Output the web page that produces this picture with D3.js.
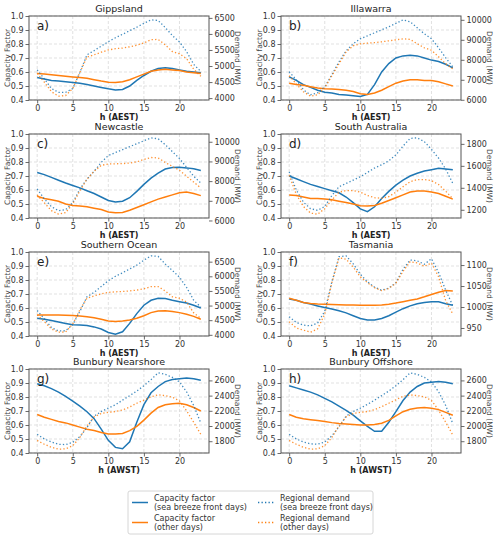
<!DOCTYPE html>
<html>
<head>
<meta charset="utf-8">
<script src="https://cdn.jsdelivr.net/npm/d3@7"></script>
<style>
body { margin: 0; background: #fff; }
text { font-family: "DejaVu Sans", sans-serif; }
</style>
</head>
<body>
<script>
// hours of day
var hours = d3.range(0, 24);

// Gippsland
var gippsCfSbf   = [0.56,0.55,0.54,0.535,0.53,0.525,0.52,0.51,0.50,0.49,0.48,0.472,0.475,0.50,0.54,0.575,0.605,0.625,0.63,0.625,0.615,0.605,0.60,0.595];
var gippsCfOther = [0.59,0.585,0.58,0.575,0.57,0.565,0.56,0.555,0.545,0.535,0.527,0.525,0.53,0.545,0.565,0.585,0.605,0.615,0.62,0.615,0.61,0.60,0.595,0.59];
var gippsDemSbf   = [4880,4600,4300,4180,4180,4300,4800,5350,5480,5620,5760,5880,5990,6100,6210,6330,6440,6420,6200,5950,5750,5450,5050,4830];
var gippsDemOther = [4770,4500,4200,4060,4080,4300,4800,5280,5350,5430,5500,5540,5560,5600,5650,5720,5820,5830,5660,5450,5380,5230,4900,4680];

// Illawarra
var illaCfSbf   = [0.565,0.54,0.51,0.49,0.47,0.455,0.45,0.44,0.435,0.43,0.425,0.44,0.51,0.60,0.66,0.70,0.715,0.72,0.715,0.70,0.685,0.675,0.655,0.63];
var illaCfOther = [0.52,0.51,0.505,0.495,0.485,0.48,0.478,0.475,0.47,0.46,0.445,0.44,0.45,0.47,0.495,0.52,0.535,0.545,0.545,0.54,0.54,0.53,0.515,0.50];
var illaDemSbf   = [7400,7000,6500,6250,6350,6650,7250,7900,8450,8800,9050,9200,9350,9500,9650,9820,10000,9900,9600,9300,9050,8600,8100,7650];
var illaDemOther = [7200,6800,6400,6180,6250,6600,7200,7800,8400,8700,8800,8830,8860,8900,8950,9000,9050,9020,8800,8600,8480,8150,7800,7550];

// Newcastle
var newcCfSbf   = [0.725,0.71,0.69,0.67,0.65,0.632,0.615,0.595,0.575,0.55,0.525,0.515,0.52,0.545,0.59,0.64,0.685,0.72,0.75,0.76,0.762,0.758,0.752,0.74];
var newcCfOther = [0.555,0.54,0.53,0.52,0.50,0.49,0.485,0.48,0.47,0.46,0.443,0.437,0.44,0.455,0.475,0.495,0.515,0.535,0.55,0.565,0.58,0.585,0.575,0.56];
var newcDemSbf   = [7600,7100,6700,6500,6550,6900,7600,8100,8500,8950,9300,9450,9600,9750,9900,10050,10200,10150,9850,9500,9150,8700,8250,7900];
var newcDemOther = [7300,6900,6500,6320,6400,6850,7500,8100,8500,8800,8870,8880,8890,8920,8980,9100,9200,9180,8950,8750,8550,8250,7950,7650];

// South Australia
var saCfSbf   = [0.70,0.68,0.66,0.64,0.625,0.61,0.595,0.58,0.55,0.51,0.465,0.445,0.48,0.54,0.59,0.635,0.67,0.70,0.72,0.735,0.745,0.755,0.75,0.745];
var saCfOther = [0.565,0.56,0.55,0.54,0.54,0.535,0.53,0.52,0.51,0.50,0.488,0.485,0.49,0.505,0.525,0.545,0.565,0.585,0.592,0.592,0.585,0.575,0.555,0.535];
var saDemSbf   = [1545,1380,1270,1210,1195,1230,1330,1410,1440,1470,1500,1540,1580,1610,1645,1700,1780,1850,1855,1820,1750,1670,1570,1440];
var saDemOther = [1515,1340,1230,1170,1160,1210,1290,1360,1375,1375,1360,1330,1310,1305,1320,1360,1410,1455,1475,1475,1465,1430,1370,1300];

// Southern Ocean
var soCfSbf   = [0.527,0.52,0.51,0.50,0.49,0.48,0.478,0.475,0.465,0.45,0.425,0.412,0.43,0.49,0.56,0.62,0.655,0.67,0.668,0.655,0.645,0.635,0.62,0.60];
var soCfOther = [0.55,0.55,0.55,0.55,0.548,0.546,0.542,0.537,0.53,0.52,0.507,0.503,0.507,0.515,0.527,0.545,0.567,0.578,0.58,0.575,0.567,0.555,0.54,0.52];
var soDemSbf   = [4830,4550,4250,4130,4140,4350,4800,5300,5450,5650,5850,6000,6120,6250,6380,6550,6700,6680,6420,6200,5970,5620,5180,4950];
var soDemOther = [4680,4450,4200,4090,4100,4370,4850,5250,5330,5400,5450,5470,5480,5500,5530,5570,5650,5650,5500,5300,5250,5120,4750,4560];

// Tasmania
var tasCfSbf   = [0.665,0.655,0.64,0.628,0.615,0.603,0.593,0.58,0.565,0.545,0.525,0.515,0.515,0.525,0.545,0.57,0.595,0.615,0.63,0.64,0.645,0.645,0.63,0.62];
var tasCfOther = [0.67,0.655,0.64,0.632,0.628,0.626,0.625,0.624,0.622,0.621,0.62,0.62,0.62,0.622,0.627,0.635,0.645,0.655,0.665,0.68,0.697,0.713,0.725,0.722];
var tasDemSbf   = [977,963,957,955,962,990,1060,1120,1122,1103,1078,1060,1047,1040,1045,1058,1090,1112,1110,1102,1115,1082,1040,1003];
var tasDemOther = [965,950,945,940,948,983,1058,1117,1114,1095,1072,1058,1046,1039,1044,1057,1085,1108,1105,1097,1105,1072,1015,983];

// Bunbury Nearshore
var bnCfSbf   = [0.895,0.88,0.86,0.835,0.805,0.77,0.735,0.695,0.645,0.57,0.49,0.44,0.43,0.48,0.62,0.745,0.83,0.875,0.91,0.925,0.93,0.935,0.93,0.92];
var bnCfOther = [0.675,0.655,0.64,0.625,0.615,0.60,0.585,0.57,0.56,0.547,0.535,0.535,0.54,0.56,0.59,0.635,0.685,0.725,0.745,0.752,0.755,0.745,0.725,0.70];
var bnDemSbf   = [1890,1830,1790,1760,1755,1785,1860,1980,2130,2190,2235,2280,2340,2400,2460,2530,2610,2700,2680,2640,2580,2450,2270,2040];
var bnDemOther = [1810,1760,1720,1695,1700,1740,1850,2000,2120,2165,2180,2190,2210,2250,2300,2340,2385,2410,2400,2380,2330,2200,2050,1890];

// Bunbury Offshore
var boCfSbf   = [0.88,0.865,0.85,0.835,0.815,0.79,0.765,0.735,0.705,0.67,0.63,0.59,0.555,0.555,0.62,0.695,0.775,0.835,0.875,0.90,0.905,0.91,0.905,0.895];
var boCfOther = [0.675,0.655,0.645,0.638,0.632,0.625,0.617,0.611,0.607,0.603,0.60,0.60,0.603,0.613,0.633,0.665,0.695,0.712,0.722,0.725,0.72,0.71,0.69,0.67];
var boDemSbf   = [1890,1830,1790,1765,1760,1790,1870,1990,2130,2190,2235,2285,2340,2400,2460,2530,2610,2700,2680,2640,2580,2450,2270,2030];
var boDemOther = [1810,1760,1720,1695,1700,1740,1850,2000,2120,2165,2180,2190,2215,2255,2300,2345,2390,2410,2400,2385,2335,2210,2050,1880];

// tick labels
var xTicks = [0, 5, 10, 15, 20];
var cfTicks = [0.4, 0.5, 0.6, 0.7, 0.8, 0.9, 1.0];
var gippsDemTicks = [4000, 4500, 5000, 5500, 6000, 6500];
var illaDemTicks = [6000, 7000, 8000, 9000, 10000];
var newcDemTicks = [6000, 7000, 8000, 9000, 10000];
var saDemTicks = [1200, 1400, 1600, 1800];
var soDemTicks = [4000, 4500, 5000, 5500, 6000, 6500];
var tasDemTicks = [950, 1000, 1050, 1100];
var bunDemTicks = [1800, 2000, 2200, 2400, 2600];

var panels = [
  {title: "Gippsland", tag: "a)", tz: "h (AEST)", ylab: "Capacity Factor", cf1: gippsCfSbf, cf2: gippsCfOther, d1: gippsDemSbf, d2: gippsDemOther, dt: gippsDemTicks},
  {title: "Illawarra", tag: "b)", tz: "h (AEST)", ylab: "Capacity factor", cf1: illaCfSbf, cf2: illaCfOther, d1: illaDemSbf, d2: illaDemOther, dt: illaDemTicks},
  {title: "Newcastle", tag: "c)", tz: "h (AEST)", ylab: "Capacity Factor", cf1: newcCfSbf, cf2: newcCfOther, d1: newcDemSbf, d2: newcDemOther, dt: newcDemTicks},
  {title: "South Australia", tag: "d)", tz: "h (AEST)", ylab: "Capacity Factor", cf1: saCfSbf, cf2: saCfOther, d1: saDemSbf, d2: saDemOther, dt: saDemTicks},
  {title: "Southern Ocean", tag: "e)", tz: "h (AEST)", ylab: "Capacity Factor", cf1: soCfSbf, cf2: soCfOther, d1: soDemSbf, d2: soDemOther, dt: soDemTicks},
  {title: "Tasmania", tag: "f)", tz: "h (AEST)", ylab: "Capacity Factor", cf1: tasCfSbf, cf2: tasCfOther, d1: tasDemSbf, d2: tasDemOther, dt: tasDemTicks},
  {title: "Bunbury Nearshore", tag: "g)", tz: "h (AWST)", ylab: "Capacity Factor", cf1: bnCfSbf, cf2: bnCfOther, d1: bnDemSbf, d2: bnDemOther, dt: bunDemTicks},
  {title: "Bunbury Offshore", tag: "h)", tz: "h (AWST)", ylab: "Capacity Factor", cf1: boCfSbf, cf2: boCfOther, d1: boDemSbf, d2: boDemOther, dt: bunDemTicks}
];

var blue = "#1f77b4", orange = "#ff7f0e";
var colX = [29, 281], rowY = [16, 134, 252, 369];
var pw = 180, ph = 84;

var svg = d3.select("body").append("svg")
    .attr("width", 500)
    .attr("height", 540);

panels.forEach(function(p, i) {
  var g = svg.append("g")
      .attr("transform", "translate(" + colX[i % 2] + "," + rowY[Math.floor(i / 2)] + ")");

  var xScale = d3.scaleLinear().domain([-1.15, 24.15]).range([0, pw]);
  var yScale = d3.scaleLinear().domain([0.4, 1.0]).range([ph, 0]);

  // right axis domain: matplotlib style 5% margins
  var all = p.d1.concat(p.d2);
  var lo = d3.min(all), hi = d3.max(all), pad = (hi - lo) * 0.05;
  var y2Scale = d3.scaleLinear().domain([lo - pad, hi + pad]).range([ph, 0]);

  // grid
  g.selectAll(".gx").data(xTicks).enter().append("line")
    .attr("x1", function(d) { return xScale(d); }).attr("x2", function(d) { return xScale(d); })
    .attr("y1", 0).attr("y2", ph)
    .style("stroke", "#d9d9d9").style("stroke-width", 0.8).style("stroke-dasharray", "3,2");
  g.selectAll(".gy").data(cfTicks).enter().append("line")
    .attr("x1", 0).attr("x2", pw)
    .attr("y1", function(d) { return yScale(d); }).attr("y2", function(d) { return yScale(d); })
    .style("stroke", "#d9d9d9").style("stroke-width", 0.8).style("stroke-dasharray", "3,2");

  var cfLine = d3.line()
      .x(function(d, j) { return xScale(hours[j]); })
      .y(function(d) { return yScale(d); });
  var demLine = d3.line()
      .x(function(d, j) { return xScale(hours[j]); })
      .y(function(d) { return y2Scale(d); });

  g.append("path").attr("d", cfLine(p.cf1))
    .style("fill", "none").style("stroke", blue).style("stroke-width", 1.5);
  g.append("path").attr("d", cfLine(p.cf2))
    .style("fill", "none").style("stroke", orange).style("stroke-width", 1.5);
  g.append("path").attr("d", demLine(p.d1))
    .style("fill", "none").style("stroke", blue).style("stroke-width", 1.3)
    .style("stroke-dasharray", "1.3,2.2").style("opacity", 0.85);
  g.append("path").attr("d", demLine(p.d2))
    .style("fill", "none").style("stroke", orange).style("stroke-width", 1.3)
    .style("stroke-dasharray", "1.3,2.2").style("opacity", 0.85);

  // axes
  var xAxis = d3.axisBottom(xScale).tickValues(xTicks).tickSize(3.5).tickPadding(2);
  var yAxis = d3.axisLeft(yScale).tickValues(cfTicks).tickSize(3.5).tickPadding(2).tickFormat(d3.format(".1f"));
  var y2Axis = d3.axisRight(y2Scale).tickValues(p.dt).tickSize(3.5).tickPadding(2).tickFormat(d3.format("d"));

  [[xAxis, "translate(0," + ph + ")"], [yAxis, null], [y2Axis, "translate(" + pw + ",0)"]].forEach(function(a) {
    var ag = g.append("g").call(a[0]);
    if (a[1]) ag.attr("transform", a[1]);
    ag.select(".domain").remove();
    ag.selectAll("line").style("stroke", "#444").style("stroke-width", 0.8);
    ag.selectAll("text").style("font-size", "8px").style("fill", "#333")
      .style("font-family", "DejaVu Sans, sans-serif");
  });

  // frame
  g.append("rect").attr("width", pw).attr("height", ph)
    .style("fill", "none").style("stroke", "#555").style("stroke-width", 1);

  g.append("text")
    .attr("x", pw / 2).attr("y", -4)
    .style("text-anchor", "middle").style("font-size", "9.5px").style("fill", "#222")
    .text(p.title);

  g.append("text")
    .attr("x", 8).attr("y", 14)
    .style("font-size", "12px").style("fill", "#222")
    .text(p.tag);

  g.append("text")
    .attr("x", pw / 2).attr("y", ph + 19.5)
    .style("text-anchor", "middle").style("font-size", "8px").style("font-weight", "bold").style("fill", "#222")
    .text(p.tz);

  g.append("text")
    .attr("transform", "translate(-19," + (ph / 2) + ") rotate(-90)")
    .style("text-anchor", "middle").style("font-size", "7.5px").style("fill", "#444")
    .text(p.ylab);

  g.append("text")
    .attr("transform", "translate(" + (pw + 26) + "," + (ph / 2) + ") rotate(90)")
    .style("text-anchor", "middle").style("font-size", "7.5px").style("fill", "#444")
    .text("Demand (MW)");
});

// legend
var legendItems = [
  {c: blue, dot: false, l1: "Capacity factor", l2: "(sea breeze front days)", col: 0, row: 0},
  {c: orange, dot: false, l1: "Capacity factor", l2: "(other days)", col: 0, row: 1},
  {c: blue, dot: true, l1: "Regional demand", l2: "(sea breeze front days)", col: 1, row: 0},
  {c: orange, dot: true, l1: "Regional demand", l2: "(other days)", col: 1, row: 1}
];

var lg = svg.append("g").attr("transform", "translate(128,491)");
lg.append("rect").attr("width", 245).attr("height", 43).attr("rx", 2)
  .style("fill", "#fff").style("stroke", "#ccc").style("stroke-width", 0.8);

var li = lg.selectAll(".li").data(legendItems).enter().append("g")
  .attr("transform", function(d) { return "translate(" + (d.col ? 130 : 4) + "," + (d.row ? 31.5 : 11.5) + ")"; });
li.append("line").attr("x1", 0).attr("x2", 16).attr("y1", 0).attr("y2", 0)
  .style("stroke", function(d) { return d.c; }).style("stroke-width", 1.5)
  .style("stroke-dasharray", function(d) { return d.dot ? "1.3,2.2" : null; });
li.append("text").attr("x", 22).attr("y", -2)
  .style("font-size", "8px").style("fill", "#333").text(function(d) { return d.l1; });
li.append("text").attr("x", 22).attr("y", 7)
  .style("font-size", "8px").style("fill", "#333").text(function(d) { return d.l2; });
</script>
</body>
</html>
